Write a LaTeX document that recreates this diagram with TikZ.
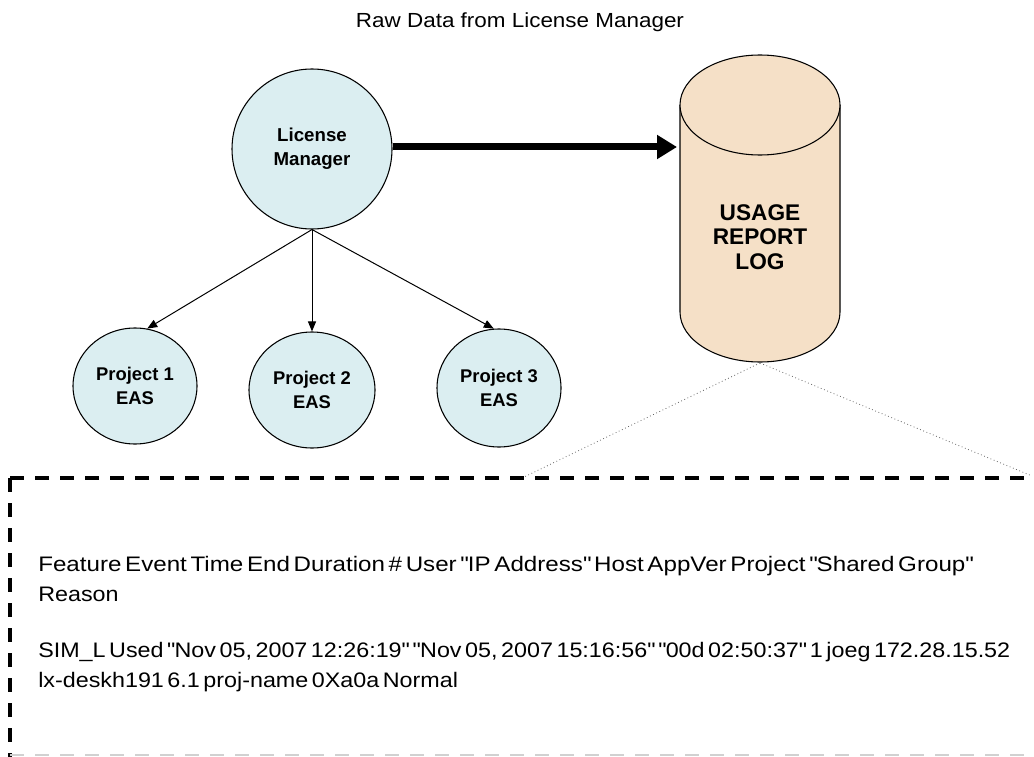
\documentclass[tikz,border=0pt]{standalone}
\usepackage{fontspec}
\setmainfont{Liberation Sans}
\newfontfamily\widesans[FakeStretch=1.1]{Liberation Sans}
\newfontfamily\headsans[FakeStretch=1.15, WordSpace=0.55]{Liberation Sans}
\newfontfamily\recsans[FakeStretch=1.11, WordSpace=0.55]{Liberation Sans}
\usetikzlibrary{arrows.meta,shapes.geometric}
\definecolor{nodefill}{RGB}{219,238,241}
\definecolor{logfill}{RGB}{245,224,199}
\newcommand\qq{\textquotedbl}
\begin{document}
\begin{tikzpicture}[x=0.75pt,y=-0.75pt,
  bubble/.style={ellipse, draw=black, line width=0.8pt, fill=nodefill,
    font=\bfseries\fontsize{13.8pt}{17.5pt}\selectfont, align=center, inner sep=0pt},
  feed/.style={-{Triangle[length=7.5pt,width=6pt]}, line width=0.75pt},
  logtext/.style={font=\recsans\fontsize{15.75pt}{22.5pt}\selectfont, anchor=base west, inner sep=0pt},
  headtext/.style={logtext, font=\headsans\fontsize{15.75pt}{22.5pt}\selectfont},
  zoomline/.style={black!60, dotted, line width=0.6pt},
  boxedge/.style={line width=3pt, dash pattern=on 10.5pt off 8.25pt}
]
\useasboundingbox (0,0) rectangle (1034,756);

% title
\node[font=\widesans\fontsize{15.3pt}{18pt}\selectfont] (title) at (520,22) {Raw Data from License Manager};

% license manager and project servers
\node[bubble, circle, minimum size=120pt, font=\bfseries\fontsize{14pt}{18pt}\selectfont] (lm) at (312,149) {License\\Manager};
\node[bubble, minimum width=93pt, minimum height=87pt] (p1) at (135,386) {Project 1\\EAS};
\node[bubble, minimum width=94.5pt, minimum height=87pt] (p2) at (312,390) {Project 2\\EAS};
\node[bubble, minimum width=93pt, minimum height=88.5pt] (p3) at (499,388) {Project 3\\EAS};

\draw[feed] (lm.south) -- (p1.78);
\draw[feed] (lm.south) -- (p2.north);
\draw[feed] (lm.south) -- (p3.95);

% usage report log cylinder
\fill[logfill] (680,105) -- (680,312) arc[start angle=180, end angle=0, x radius=80, y radius=50] -- (840,105) -- cycle;
\draw[line width=0.8pt] (680,105) -- (680,312) arc[start angle=180, end angle=0, x radius=80, y radius=50] -- (840,105);
\filldraw[fill=logfill, draw=black, line width=0.8pt] (760,105) ellipse[x radius=80, y radius=50];
\node[font=\bfseries\fontsize{17pt}{18.4pt}\selectfont, align=center] (log) at (760,237) {USAGE\\REPORT\\LOG};
\coordinate (login) at (677,147);
\coordinate (logbot) at (760,363);

\draw[line width=5.25pt, -{Triangle[length=15pt,width=17.25pt]}] (lm.east |- login) -- (login);

% zoom-out lines to the record box
\coordinate (boxl) at (522,478);
\coordinate (boxr) at (1032,476);
\draw[zoomline] (logbot) -- (boxl);
\draw[zoomline] (logbot) -- (boxr);

% dashed record box
\coordinate (corner) at (10,478);
\draw[boxedge] (corner) -- (1040,478);
\draw[boxedge] (corner) -- (10,760);
\draw[black!18, line width=1.2pt, dash pattern=on 10.5pt off 8.25pt] (10,755) -- (1040,755);

% log record text
\node[headtext] (hdr1) at (38,571) {Feature Event Time End Duration \# User \qq IP Address\qq{} Host AppVer Project \qq Shared Group\qq};
\node[logtext] (hdr2) at (38,601) {Reason};
\node[logtext] (rec1) at (38,657) {SIM\_L Used \qq Nov 05, 2007 12:26:19\qq{} \qq Nov 05, 2007 15:16:56\qq{} \qq 00d 02:50:37\qq{} 1 joeg 172.28.15.52};
\node[logtext] (rec2) at (38,687) {lx-deskh191 6.1 proj-name 0Xa0a Normal};
\end{tikzpicture}
\end{document}
